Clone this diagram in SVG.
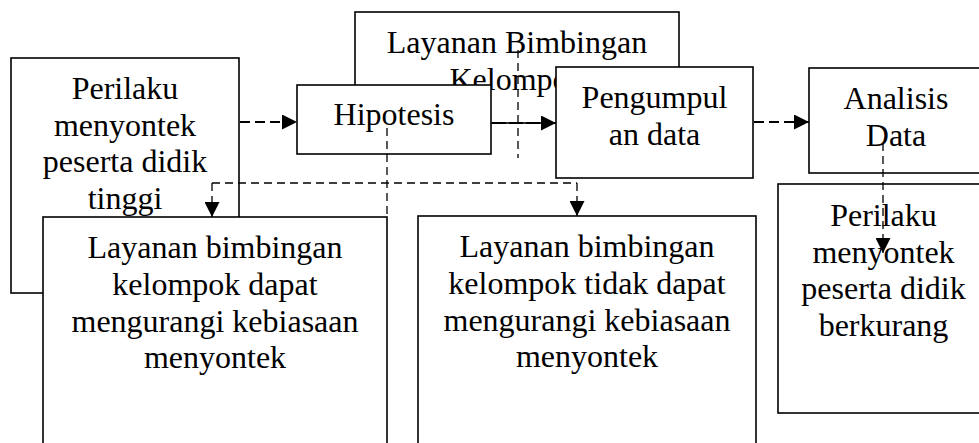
<svg xmlns="http://www.w3.org/2000/svg" width="979" height="443" viewBox="0 0 979 443">
<style>
.box{fill:#fff;stroke:#000;stroke-width:1.6}
text{font-family:"Liberation Serif","Times New Roman",serif;font-size:32px;fill:#000;text-anchor:middle}
.c{fill:none;stroke:#000}
.thick{stroke-width:2;stroke-dasharray:10 5}
.thin{stroke-width:1.3;stroke-dasharray:8 5}
</style>
<defs>
<marker id="ah" viewBox="0 0 10 10" refX="10" refY="5" markerWidth="15" markerHeight="15" markerUnits="userSpaceOnUse" orient="auto">
<path d="M0,0 L10,5 L0,10 z" fill="#000"/>
</marker>
</defs>
<rect width="979" height="443" fill="#fff"/>
<g id="perilaku-tinggi">
<rect class="box" x="11" y="58" width="228" height="235"/>
<text x="125" y="99">Perilaku</text>
<text x="125" y="136">menyontek</text>
<text x="125" y="172">peserta didik</text>
<text x="125" y="209">tinggi</text>
</g>
<g id="layanan-bk">
<rect class="box" x="355" y="12" width="324" height="111"/>
<text x="517" y="53">Layanan Bimbingan</text>
<text x="517" y="90">Kelompok</text>
</g>
<g id="hipotesis">
<rect class="box" x="297" y="85" width="194" height="69"/>
<text x="394" y="125">Hipotesis</text>
</g>
<g id="pengumpulan">
<rect class="box" x="556" y="67" width="197" height="111"/>
<text x="654.5" y="108">Pengumpul</text>
<text x="654.5" y="145">an data</text>
</g>
<g id="analisis">
<rect class="box" x="809" y="68" width="180" height="105"/>
<text x="896" y="109">Analisis</text>
<text x="896" y="146">Data</text>
</g>
<g id="berkurang">
<rect class="box" x="778" y="184" width="211" height="229"/>
<text x="883.5" y="226">Perilaku</text>
<text x="883.5" y="262.5">menyontek</text>
<text x="883.5" y="299">peserta didik</text>
<text x="883.5" y="335.5">berkurang</text>
</g>
<g id="dapat">
<rect class="box" x="43" y="217" width="344" height="240"/>
<text x="215" y="258">Layanan bimbingan</text>
<text x="215" y="295">kelompok dapat</text>
<text x="215" y="332">mengurangi kebiasaan</text>
<text x="215" y="368">menyontek</text>
</g>
<g id="tidak-dapat">
<rect class="box" x="418" y="216" width="338" height="240"/>
<text x="587" y="257">Layanan bimbingan</text>
<text x="587" y="294">kelompok tidak dapat</text>
<text x="587" y="331">mengurangi kebiasaan</text>
<text x="587" y="367">menyontek</text>
</g>
<g id="connectors">
<path class="c thick" d="M240,122 H297" marker-end="url(#ah)"/>
<path class="c" style="stroke-width:2;stroke-dasharray:14 3" d="M492,123 H556" marker-end="url(#ah)"/>
<path class="c thick" d="M754,122 H809" marker-end="url(#ah)"/>
<path class="c thin" d="M387,128 V217"/>
<path class="c thin" d="M518,50 V158"/>
<path class="c thin" d="M212,183 H577"/>
<path class="c thin" d="M212,183 V217" marker-end="url(#ah)"/>
<path class="c thin" d="M577,183 V216" marker-end="url(#ah)"/>
<path class="c thin" d="M883,143 V253" marker-end="url(#ah)"/>
</g>
</svg>
